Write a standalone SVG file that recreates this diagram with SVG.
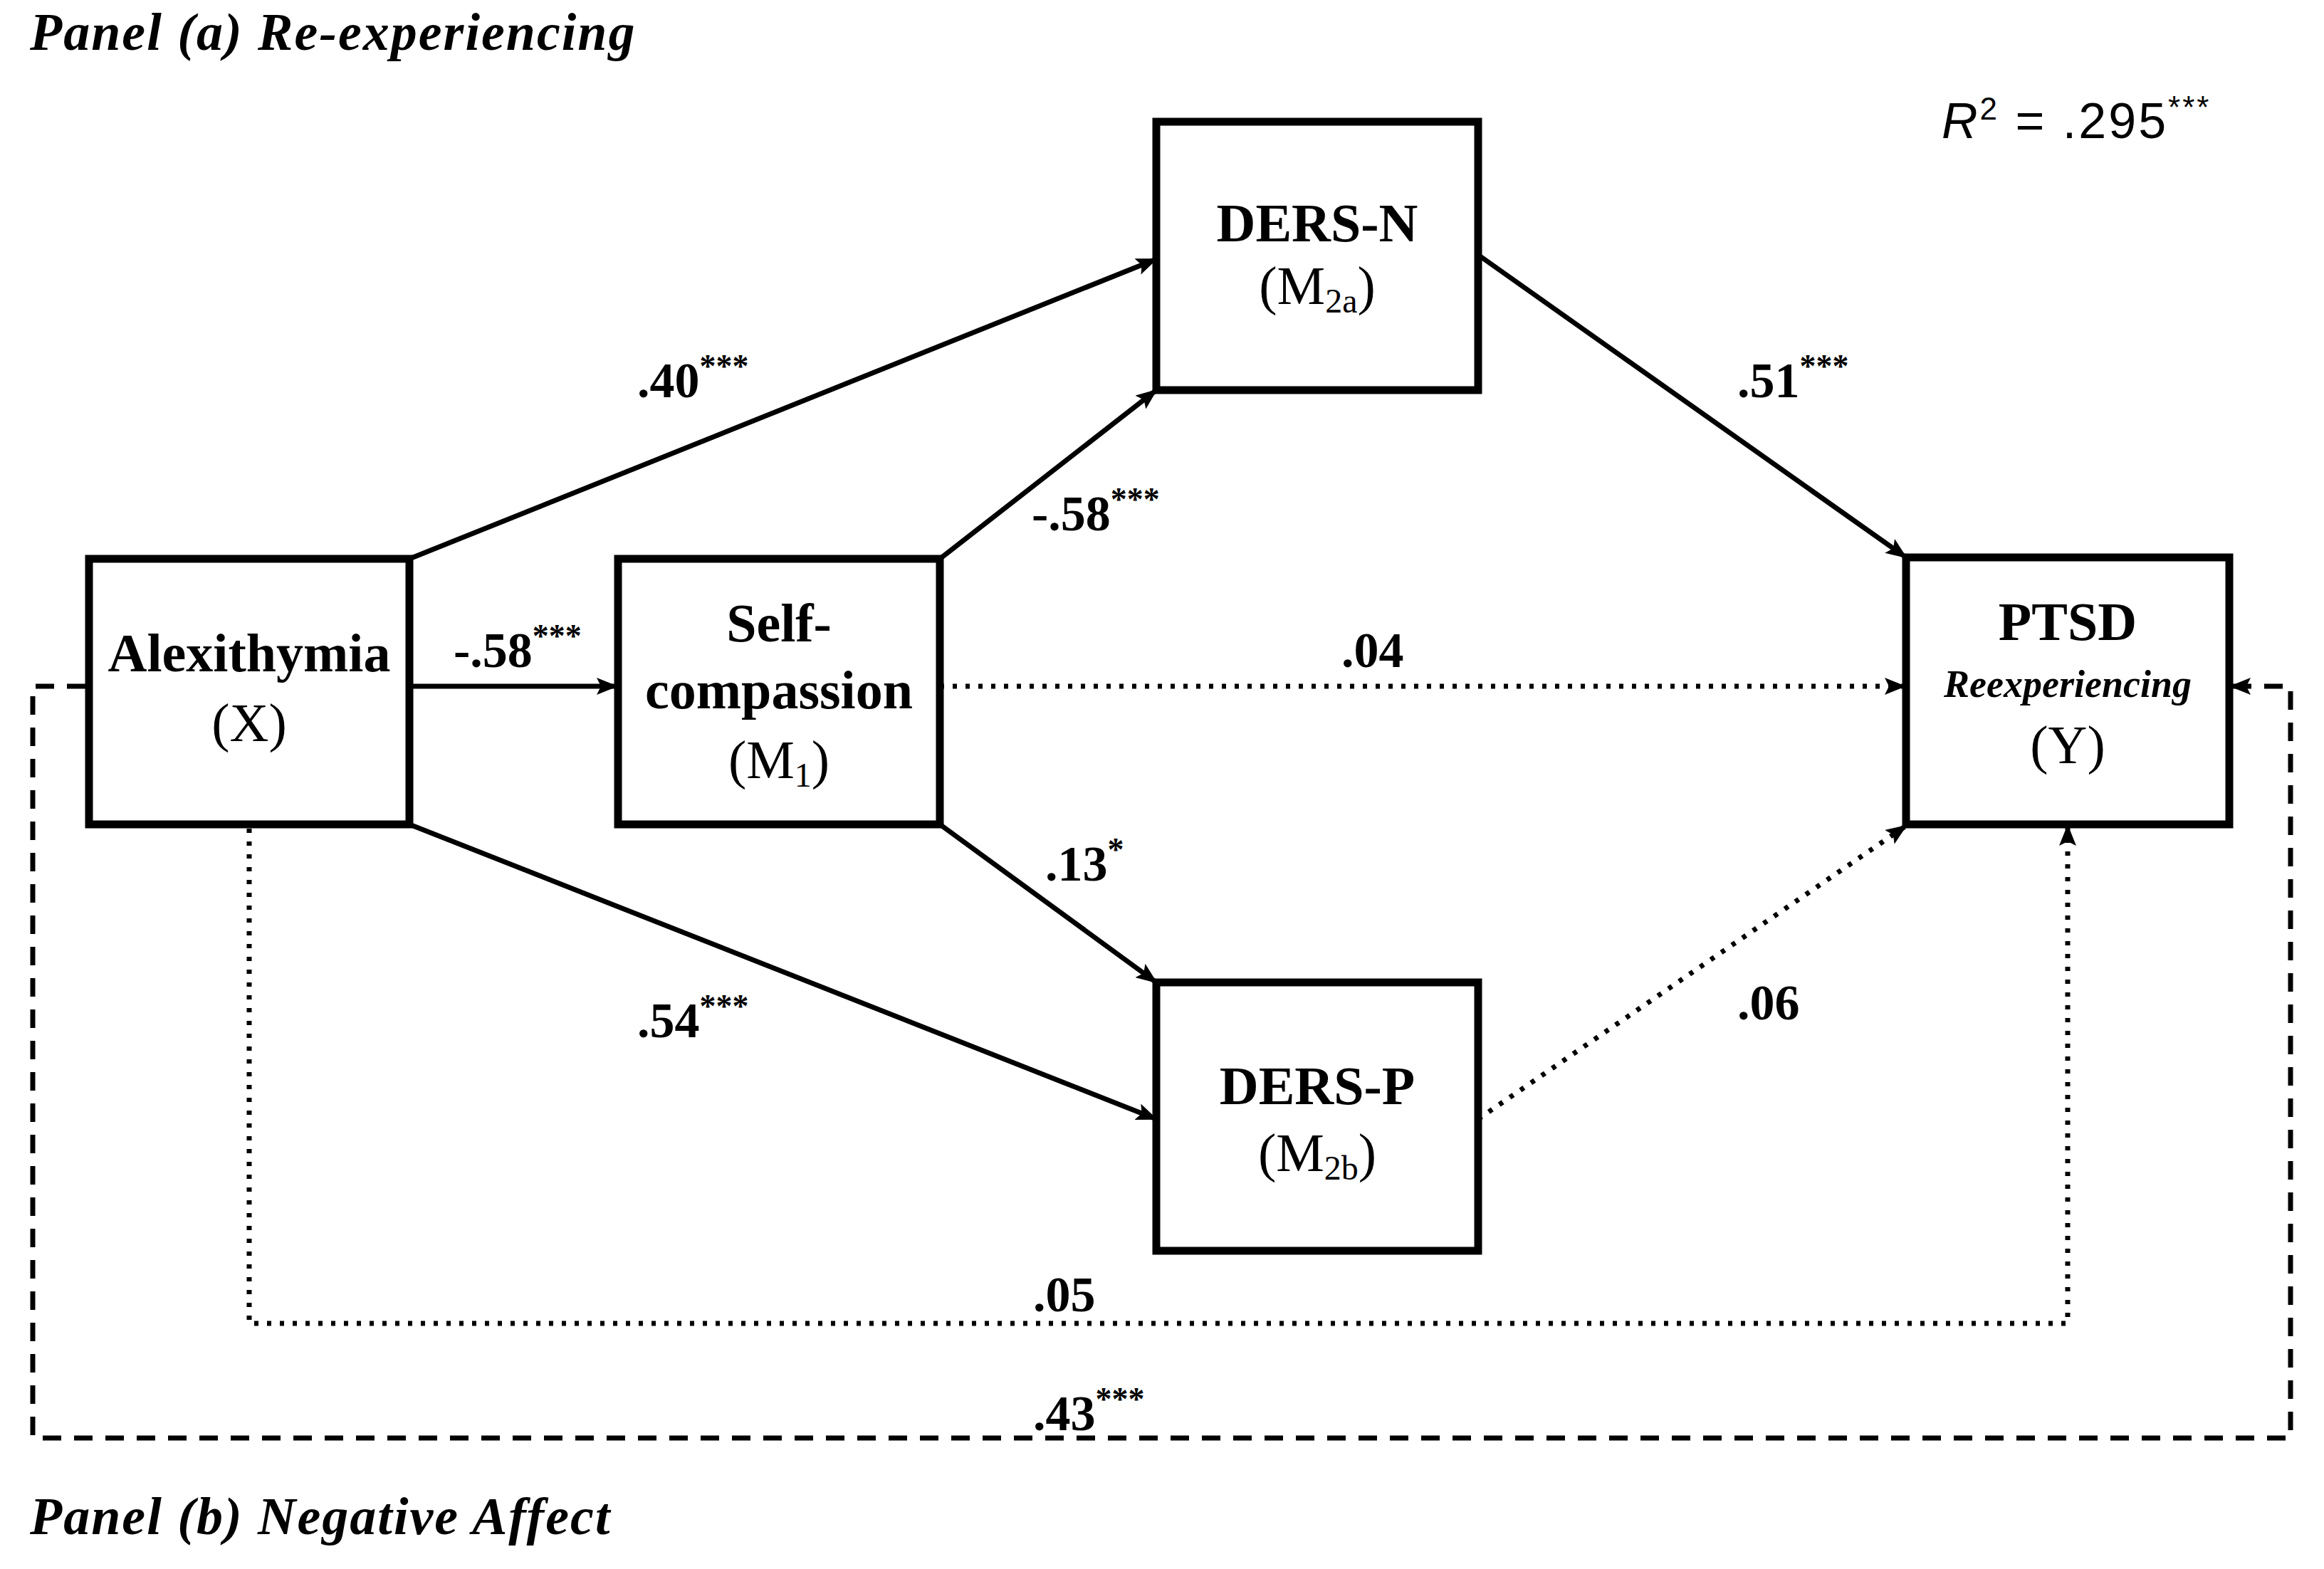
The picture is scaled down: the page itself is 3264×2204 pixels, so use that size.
<svg xmlns="http://www.w3.org/2000/svg" width="3264" height="2204" viewBox="0 0 3264 2204">
<defs>
<marker id="ah" markerUnits="userSpaceOnUse" markerWidth="30" markerHeight="24" refX="28" refY="12" orient="auto"><path d="M0,0 L30,12 L0,24 L6,12 Z" fill="#000"/></marker>
</defs>
<style>
.box{fill:#fff;stroke:#000;stroke-width:11}
.t{font-family:"Liberation Serif",serif;text-anchor:middle;fill:#000}
.b{font-weight:bold}
.n{font-size:76px}
.lab{font-family:"Liberation Serif",serif;font-weight:bold;font-size:70px;fill:#000}
.sup{font-size:46px}
.c{fill:none;stroke:#000;stroke-width:7}
.dot{stroke-dasharray:6 12}
.dash{stroke-dasharray:26 18}
.panel{font-family:"Liberation Serif",serif;font-style:italic;font-weight:bold;font-size:74px;fill:#000;letter-spacing:2px}
</style>
<rect width="3264" height="2204" fill="#fff"/>
<text class="panel" x="42" y="70">Panel (a) Re-experiencing</text>
<text class="panel" x="42" y="2155">Panel (b) Negative Affect</text>
<text x="2727" y="194" font-family="Liberation Sans,sans-serif" font-size="70" fill="#000" letter-spacing="3"><tspan font-style="italic">R</tspan><tspan dy="-26" font-size="44">2</tspan><tspan dy="26"> = .295</tspan><tspan dy="-28" font-size="44">***</tspan></text>
<g id="connectors">
<line class="c" x1="575" y1="785" x2="1624" y2="364" marker-end="url(#ah)"/>
<line class="c" x1="1320" y1="785" x2="1624" y2="548" marker-end="url(#ah)"/>
<line class="c" x1="2076" y1="358" x2="2677" y2="783" marker-end="url(#ah)"/>
<line class="c" x1="575" y1="964" x2="866" y2="964" marker-end="url(#ah)"/>
<line class="c dot" x1="1320" y1="964" x2="2675" y2="964" marker-end="url(#ah)"/>
<line class="c" x1="1320" y1="1158" x2="1624" y2="1380" marker-end="url(#ah)"/>
<line class="c" x1="575" y1="1158" x2="1624" y2="1572" marker-end="url(#ah)"/>
<line class="c dot" x1="2076" y1="1572" x2="2677" y2="1160" marker-end="url(#ah)"/>
<path class="c dot" d="M350,1164 L350,1859 L2904,1859 L2904,1160" marker-end="url(#ah)"/>
<path class="c dash" d="M120,964 L46,964 L46,2020 L3217,2020 L3217,964 L3133,964" marker-end="url(#ah)"/>
</g>
<g id="alexithymia"><rect class="box" x="125" y="785" width="450" height="373"/>
<text class="t b n" x="350" y="943">Alexithymia</text><text class="t n" x="350" y="1041">(X)</text></g>
<g id="selfcompassion"><rect class="box" x="868" y="785" width="452" height="373"/>
<text class="t b n" x="1094" y="901">Self-</text><text class="t b n" x="1094" y="995">compassion</text><text class="t n" x="1094" y="1093">(M<tspan font-size="48" dy="12">1</tspan><tspan dy="-12">)</tspan></text></g>
<g id="dersn"><rect class="box" x="1624" y="171" width="452" height="377"/>
<text class="t b n" x="1850" y="339">DERS-N</text><text class="t n" x="1850" y="427">(M<tspan font-size="48" dy="12">2a</tspan><tspan dy="-12">)</tspan></text></g>
<g id="dersp"><rect class="box" x="1624" y="1380" width="452" height="377"/>
<text class="t b n" x="1850" y="1551">DERS-P</text><text class="t n" x="1850" y="1645">(M<tspan font-size="48" dy="12">2b</tspan><tspan dy="-12">)</tspan></text></g>
<g id="ptsd"><rect class="box" x="2677" y="783" width="454" height="375"/>
<text class="t b n" x="2904" y="899">PTSD</text><text class="t b" x="2904" y="979" font-size="54" font-style="italic">Reexperiencing</text><text class="t n" x="2904" y="1072">(Y)</text></g>
<g id="labels">
<text class="lab" x="895" y="558">.40<tspan class="sup" dy="-28">***</tspan></text>
<text class="lab" x="637" y="937">-.58<tspan class="sup" dy="-28">***</tspan></text>
<text class="lab" x="1449" y="745">-.58<tspan class="sup" dy="-28">***</tspan></text>
<text class="lab" x="2440" y="558">.51<tspan class="sup" dy="-28">***</tspan></text>
<text class="lab" x="1884" y="937">.04</text>
<text class="lab" x="1468" y="1237">.13<tspan class="sup" dy="-28">*</tspan></text>
<text class="lab" x="895" y="1457">.54<tspan class="sup" dy="-28">***</tspan></text>
<text class="lab" x="2440" y="1432">.06</text>
<text class="lab" x="1451" y="1842">.05</text>
<text class="lab" x="1451" y="2009">.43<tspan class="sup" dy="-28">***</tspan></text>
</g>
</svg>
